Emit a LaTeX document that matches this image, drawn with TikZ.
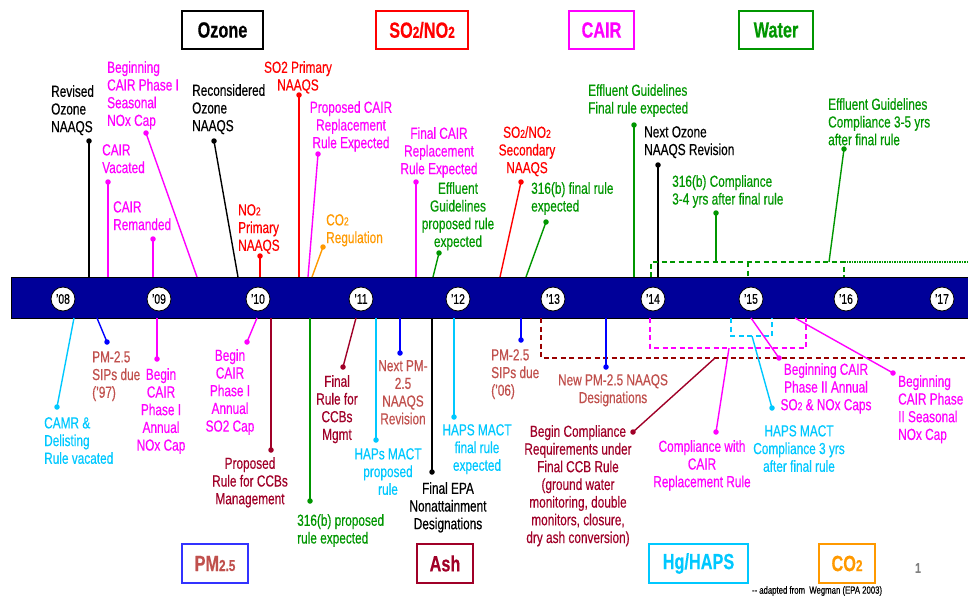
\documentclass[tikz,border=0pt]{standalone}
\usepackage{fontspec}
\usepackage{graphicx}
\setmainfont{Liberation Sans}[FakeStretch=0.74, FakeBold=0.4]
\newcommand\sbx[1]{\scalebox{0.72}{#1}}
\definecolor{cNavy}{RGB}{0,0,153}
\definecolor{cMag}{RGB}{255,0,255}
\definecolor{cGrn}{RGB}{0,150,0}
\definecolor{cOrg}{RGB}{255,153,0}
\definecolor{cCyn}{RGB}{0,200,255}
\definecolor{cPm}{RGB}{192,80,77}
\definecolor{cDrd}{RGB}{160,0,40}
\definecolor{cDash}{RGB}{153,0,0}
\definecolor{cBlu}{RGB}{0,0,255}
\definecolor{cRed}{RGB}{255,0,0}
\tikzset{
  lbl/.style={font=\fontsize{16}{17.7}\selectfont, inner sep=0pt, align=center},
  lblL/.style={lbl, align=left, anchor=north west},
  lblC/.style={lbl, align=center, anchor=north},
  dotn/.style={circle, fill, inner sep=0pt, minimum size=5.5pt},
  conn/.style={line width=1.4pt},
  dsh/.style={line width=1.6pt, dash pattern=on 5pt off 3.5pt},
  catbox/.style={draw, line width=1.8pt, inner sep=0pt, font=\fontsize{22}{24}\bfseries\selectfont},
  yr/.style={circle, draw=black, fill=white, line width=0.8pt, inner sep=0pt, minimum size=24pt, font=\fontsize{14}{14}\selectfont},
}
\begin{document}
\begin{tikzpicture}[x=1pt,y=-1pt]
\useasboundingbox (0,0) rectangle (968,597);
% category boxes
\node[catbox, draw=black, minimum width=81pt, minimum height=38pt] (bOz) at (222.5,30) {Ozone};
\node[catbox, draw=cRed, text=cRed, minimum width=92pt, minimum height=38pt] (bSO) at (422,30) {SO\sbx{2}/NO\sbx{2}};
\node[catbox, draw=cMag, text=cMag, minimum width=65pt, minimum height=38pt] (bCA) at (601.5,30) {CAIR};
\node[catbox, draw=cGrn, text=cGrn, minimum width=74pt, minimum height=38pt] (bWa) at (776,30) {Water};
\node[catbox, draw=cBlu!80, text=cPm, minimum width=66pt, minimum height=39pt] (bPM) at (215,563.5) {PM\sbx{2.5}};
\node[catbox, draw=cDrd, text=cDrd, minimum width=56pt, minimum height=39pt] (bAs) at (445,563.5) {Ash};
\node[catbox, draw=cCyn, text=cCyn, minimum width=99pt, minimum height=39pt] (bHg) at (698.5,563.5) {Hg/HAPS};
\node[catbox, draw=cOrg, text=cOrg, minimum width=56pt, minimum height=39pt] (bCO) at (847,563.5) {CO\sbx{2}};
\node[font=\fontsize{14}{14}\bfseries\selectfont, text=black!50] (pg) at (918,568) {1};
\node[font=\fontsize{10.5}{10.5}\selectfont, inner sep=0pt] (src) at (817,591) {{-}{-} adapted from\ \ Wegman (EPA 2003)};

% band
\node[draw=black, fill=cNavy, line width=0.8pt, inner sep=0pt, minimum width=957pt, minimum height=41pt, anchor=north west] (band) at (11,277) {};

% ---------------- upper items ----------------
% U1
\node[lblL, text=black] (tU1) at (51,85) {Revised\\Ozone\\NAAQS};
\node[dotn, black] (dU1) at (89,141) {};
\coordinate (eU1) at (89,277);
\draw[conn, black] (dU1.center) -- (eU1);
% U2
\node[lblL, text=cMag] (tU2) at (107,61) {Beginning\\CAIR Phase I\\Seasonal\\NOx Cap};
\node[dotn, cMag] (dU2) at (146,133) {};
\coordinate (eU2) at (197,277);
\draw[conn, cMag] (dU2.center) -- (eU2);
% U3
\node[lblL, text=cMag] (tU3) at (102,144) {CAIR\\Vacated};
\node[dotn, cMag] (dU3) at (108,182) {};
\coordinate (eU3) at (108,277);
\draw[conn, cMag] (dU3.center) -- (eU3);
% U4
\node[lblL, text=cMag] (tU4) at (113,201) {CAIR\\Remanded};
\node[dotn, cMag] (dU4) at (153,239) {};
\coordinate (eU4) at (153,277);
\draw[conn, cMag] (dU4.center) -- (eU4);
% U5
\node[lblL, text=black] (tU5) at (192,84) {Reconsidered\\Ozone\\NAAQS};
\node[dotn, black] (dU5) at (214,141) {};
\coordinate (eU5) at (238,277);
\draw[conn, black] (dU5.center) -- (eU5);
% U6
\node[lblC, text=cRed] (tU6) at (298,61) {SO2 Primary\\NAAQS};
\node[dotn, cRed] (dU6) at (299,95) {};
\coordinate (eU6) at (299,277);
\draw[conn, cRed] (dU6.center) -- (eU6);
% U7
\node[lblL, text=cRed] (tU7) at (238,204) {NO\sbx{2}\\Primary\\NAAQS};
\node[dotn, cRed] (dU7) at (260,256) {};
\coordinate (eU7) at (260,277);
\draw[conn, cRed] (dU7.center) -- (eU7);
% U8
\node[lblC, text=cMag] (tU8) at (351,101) {Proposed CAIR\\Replacement\\Rule Expected};
\node[dotn, cMag] (dU8) at (318,154) {};
\coordinate (eU8) at (308,277);
\draw[conn, cMag] (dU8.center) -- (eU8);
% U9
\node[lblL, text=cOrg] (tU9) at (326,214) {CO\sbx{2}\\Regulation};
\node[dotn, cOrg] (dU9) at (323,247) {};
\coordinate (eU9) at (312,277);
\draw[conn, cOrg] (dU9.center) -- (eU9);
% U10
\node[lblC, text=cMag] (tU10) at (439,127) {Final CAIR\\Replacement\\Rule Expected};
\node[dotn, cMag] (dU10) at (416,182) {};
\coordinate (eU10) at (416,277);
\draw[conn, cMag] (dU10.center) -- (eU10);
% U11
\node[lblC, text=cGrn] (tU11) at (458,182) {Effluent\\Guidelines\\proposed rule\\expected};
\node[dotn, cGrn] (dU11) at (439,253) {};
\coordinate (eU11) at (433,277);
\draw[conn, cGrn] (dU11.center) -- (eU11);
% U12
\node[lblC, text=cRed] (tU12) at (527,126) {SO\sbx{2}/NO\sbx{2}\\Secondary\\NAAQS};
\node[dotn, cRed] (dU12) at (521,182) {};
\coordinate (eU12) at (500,277);
\draw[conn, cRed] (dU12.center) -- (eU12);
% U13
\node[lblL, text=cGrn] (tU13) at (531,182) {316(b) final rule\\expected};
\node[dotn, cGrn] (dU13) at (546,222) {};
\coordinate (eU13) at (526,277);
\draw[conn, cGrn] (dU13.center) -- (eU13);
% U14
\node[lblL, text=cGrn] (tU14) at (588,84) {Effluent Guidelines\\Final rule expected};
\node[dotn, cGrn] (dU14) at (634,125) {};
\coordinate (eU14) at (634,277);
\draw[conn, cGrn] (dU14.center) -- (eU14);
% U15
\node[lblL, text=black] (tU15) at (644,126) {Next Ozone\\NAAQS Revision};
\node[dotn, black] (dU15) at (658,165) {};
\coordinate (eU15) at (658,277);
\draw[conn, black] (dU15.center) -- (eU15);
% green dashed bracket
\coordinate (g1) at (651,277);
\coordinate (g2) at (651,262);
\coordinate (g3) at (844,262);
\coordinate (g4) at (844,277);
\coordinate (g5) at (748,262);
\coordinate (g6) at (748,277);
\coordinate (g7) at (968,262);
\draw[dsh, cGrn] (g1) -- (g2) -- (g3) -- (g4);
\draw[dsh, cGrn] (g5) -- (g6);
\draw[cGrn, line width=1.6pt, dash pattern=on 1.5pt off 1pt] (g3) -- (g7);
% U16
\node[lblL, text=cGrn] (tU16) at (672,175) {316(b) Compliance\\3-4 yrs after final rule};
\node[dotn, cGrn] (dU16) at (716,213) {};
\coordinate (eU16) at (716,262);
\draw[conn, cGrn] (dU16.center) -- (eU16);
% U17
\node[lblL, text=cGrn] (tU17) at (828,98) {Effluent Guidelines\\Compliance 3-5 yrs\\after final rule};
\node[dotn, cGrn] (dU17) at (844,149) {};
\coordinate (eU17) at (829,262);
\draw[conn, cGrn] (dU17.center) -- (eU17);

% ---------------- lower items ----------------
% L1
\node[lblL, text=cCyn] (tL1) at (44,417) {CAMR \&\\Delisting\\Rule vacated};
\node[dotn, cCyn] (dL1) at (57,407) {};
\coordinate (eL1) at (74,318);
\draw[conn, cCyn] (dL1.center) -- (eL1);
% L2
\node[lblL, text=cPm] (tL2) at (92,351) {PM-2.5\\SIPs due\\(’97)};
\node[dotn, cBlu] (dL2) at (107,342) {};
\coordinate (eL2) at (97,318);
\draw[conn, cBlu] (dL2.center) -- (eL2);
% L3
\node[lblC, text=cMag] (tL3) at (161,368) {Begin\\CAIR\\Phase I\\Annual\\NOx Cap};
\node[dotn, cMag] (dL3) at (157,359) {};
\coordinate (eL3) at (157,318);
\draw[conn, cMag] (dL3.center) -- (eL3);
% L4
\node[lblC, text=cMag] (tL4) at (230,349) {Begin\\CAIR\\Phase I\\Annual\\SO2 Cap};
\node[dotn, cMag] (dL4) at (247,342) {};
\coordinate (eL4) at (257,318);
\draw[conn, cMag] (dL4.center) -- (eL4);
% L5
\node[lblC, text=cDrd] (tL5) at (250,457) {Proposed\\Rule for CCBs\\Management};
\node[dotn, cDrd] (dL5) at (271,450) {};
\coordinate (eL5) at (271,318);
\draw[conn, cDrd] (dL5.center) -- (eL5);
% L6
\node[lblL, text=cGrn] (tL6) at (297,514) {316(b) proposed\\rule expected};
\node[dotn, cGrn] (dL6) at (310,501) {};
\coordinate (eL6) at (310,318);
\draw[conn, cGrn] (dL6.center) -- (eL6);
% L7
\node[lblC, text=cDrd] (tL7) at (337,375) {Final\\Rule for\\CCBs\\Mgmt};
\node[dotn, cDrd] (dL7) at (343,367) {};
\coordinate (eL7) at (356,318);
\draw[conn, cDrd] (dL7.center) -- (eL7);
% L8
\node[lblC, text=cCyn] (tL8) at (388,448) {HAPs MACT\\proposed\\rule};
\node[dotn, cCyn] (dL8) at (376,440) {};
\coordinate (eL8) at (376,318);
\draw[conn, cCyn] (dL8.center) -- (eL8);
% L9
\node[lblC, text=cPm] (tL9) at (403,360) {Next PM-\\2.5\\NAAQS\\Revision};
\node[dotn, cBlu] (dL9) at (400,353) {};
\coordinate (eL9) at (400,318);
\draw[conn, cBlu] (dL9.center) -- (eL9);
% L10
\node[lblC, text=black] (tL10) at (448,482) {Final EPA\\Nonattainment\\Designations};
\node[dotn, black] (dL10) at (432,472) {};
\coordinate (eL10) at (432,318);
\draw[conn, black] (dL10.center) -- (eL10);
% L11
\node[lblC, text=cCyn] (tL11) at (477,424) {HAPS MACT\\final rule\\expected};
\node[dotn, cCyn] (dL11) at (454,417) {};
\coordinate (eL11) at (454,318);
\draw[conn, cCyn] (dL11.center) -- (eL11);
% L12
\node[lblL, text=cPm] (tL12) at (491,349) {PM-2.5\\SIPs due\\(’06)};
\node[dotn, cBlu] (dL12) at (521,340) {};
\coordinate (eL12) at (521,318);
\draw[conn, cBlu] (dL12.center) -- (eL12);
% dark red dashed
\coordinate (r1) at (541,318);
\coordinate (r2) at (541,358);
\coordinate (r3) at (968,358);
\draw[dsh, cDash] (r1) -- (r2) -- (r3);
% L13
\node[lblC, text=cPm] (tL13) at (613,374) {New PM-2.5 NAAQS\\Designations};
\node[dotn, cBlu] (dL13) at (606,367) {};
\coordinate (eL13) at (606,318);
\draw[conn, cBlu] (dL13.center) -- (eL13);
% L14
\node[lblC, text=cDrd] (tL14) at (578,425) {Begin Compliance\\Requirements under\\Final CCB Rule\\(ground water\\monitoring, double\\monitors, closure,\\dry ash conversion)};
\node[dotn, cDrd] (dL14) at (633,432) {};
\coordinate (eL14) at (715,358);
\draw[conn, cDrd] (dL14.center) -- (eL14);
% magenta dashed bracket
\coordinate (m1) at (650,318);
\coordinate (m2) at (650,348);
\coordinate (m3) at (806,348);
\coordinate (m4) at (806,318);
\draw[dsh, cMag] (m1) -- (m2) -- (m3) -- (m4);
% cyan dashed bracket
\coordinate (c1) at (731,318);
\coordinate (c2) at (731,336);
\coordinate (c3) at (772,336);
\coordinate (c4) at (772,318);
\draw[dsh, cCyn] (c1) -- (c2) -- (c3) -- (c4);
% L15
\node[lblC, text=cMag] (tL15) at (702,440) {Compliance with\\CAIR\\Replacement Rule};
\node[dotn, cMag] (dL15) at (716,432) {};
\coordinate (eL15) at (729,348);
\draw[conn, cMag] (dL15.center) -- (eL15);
% L16
\node[lblC, text=cCyn] (tL16) at (799,425) {HAPS MACT\\Compliance 3 yrs\\after final rule};
\node[dotn, cCyn] (dL16) at (772,408) {};
\coordinate (eL16) at (752,336);
\draw[conn, cCyn] (dL16.center) -- (eL16);
% L17
\node[lblC, text=cMag] (tL17) at (826,363) {Beginning CAIR\\Phase II Annual\\SO\sbx{2} \& NOx Caps};
\node[dotn, cMag] (dL17) at (779,358) {};
\coordinate (eL17) at (751,318);
\draw[conn, cMag] (dL17.center) -- (eL17);
% L18
\node[lblL, text=cMag] (tL18) at (898,375) {Beginning\\CAIR Phase\\II Seasonal\\NOx Cap};
\node[dotn, cMag] (dL18) at (893,373) {};
\coordinate (eL18) at (795,318);
\draw[conn, cMag] (dL18.center) -- (eL18);

% year markers
\node[yr] (y08) at (63,299) {’08};
\node[yr] (y09) at (159,299) {’09};
\node[yr] (y10) at (258,299) {’10};
\node[yr] (y11) at (361,299) {’11};
\node[yr] (y12) at (458,299) {’12};
\node[yr] (y13) at (553,299) {’13};
\node[yr] (y14) at (653,299) {’14};
\node[yr] (y15) at (751,299) {’15};
\node[yr] (y16) at (846,299) {’16};
\node[yr] (y17) at (942,299) {’17};
\end{tikzpicture}
\end{document}
